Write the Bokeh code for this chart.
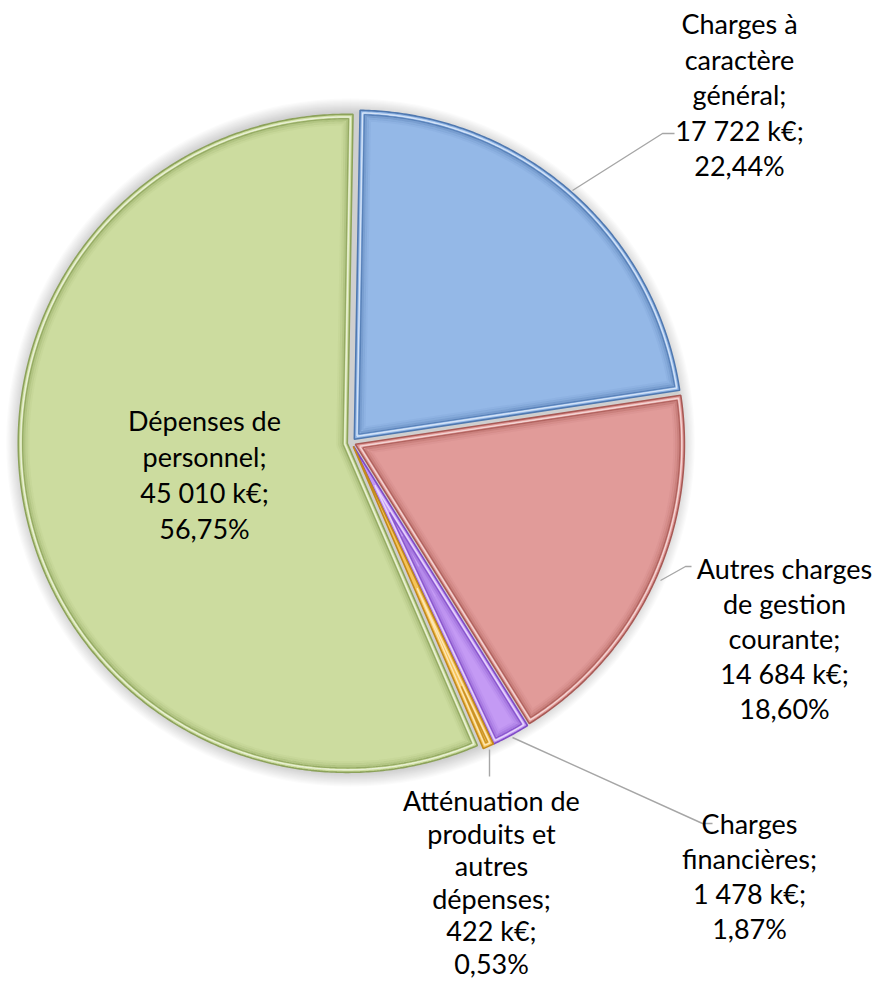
import numpy as np
from bokeh.plotting import figure
from bokeh.models import Range1d, ColumnDataSource
from bokeh.core.properties import value
from bokeh.embed import file_html
from bokeh.resources import INLINE

# ---------------- data ----------------
categories = ["Charges à\ncaractère\ngénéral",
              "Autres charges\nde gestion\ncourante",
              "Charges\nfinancières",
              "Atténuation de\nproduits et\nautres\ndépenses",
              "Dépenses de\npersonnel"]
values_keur = [17722, 14684, 1478, 422, 45010]
percents = [22.44, 18.60, 1.87, 0.53, 56.75]

# ---------------- style / layout ----------------
fill_colors = ["#94B8E7", "#E19B99", "#C49AF4", "#F7C458", "#CCDC9F"]
edge_colors = ["#4F78B0", "#A85955", "#7F4BC6", "#C28A1C", "#8CA25A"]
light_colors = ["#D4E3F7", "#F3D5D4", "#E6D5FB", "#FCE6B5", "#E9F0D6"]

PAGE_H = 1006
W, H = 876, 990
def Y(py):
    return PAGE_H - py

CX, CY = 359.0, Y(450)
R = 329.0
EXPLODE = 4.3
START_DEG = 89.0

FONT = "Lato"
FSIZE = "27px"
# (center x, first baseline y in page px, line step)
label_pos = [(747, 31, 35.5), (792, 576, 35), (757, 831, 35), (499, 808, 32.6), (212, 428, 36)]
leaders = [
    [(580, 198), (670, 141), (682, 141)],
    [(668, 588), (693, 574), (699, 574)],
    [(520, 745), (710, 831), (720, 831)],
    [(497, 757), (497, 784)],
]

p = figure(width=W, height=H, x_range=Range1d(8, 8 + W), y_range=Range1d(Y(8 + H), Y(8)),
           output_backend="svg", toolbar_location=None, min_border=0)
p.title.visible = False
p.xaxis.visible = False
p.yaxis.visible = False
p.xgrid.visible = False
p.ygrid.visible = False
p.outline_line_color = None
p.background_fill_color = "white"
p.border_fill_color = "white"

# soft shadow
for k in range(1, 13):
    p.circle(x=[CX - 1], y=[CY], radius=R + 1 + k * 1.2, fill_color="#000000",
             fill_alpha=0.014, line_color=None)

vals = np.array(values_keur, dtype=float)
spans = vals / vals.sum() * 2 * np.pi
starts = np.radians(START_DEG) - np.concatenate([[0], np.cumsum(spans)[:-1]])
ends = starts - spans
bis = starts - spans / 2


def slice_poly(i, inset):
    s, e, b, sp = starts[i], ends[i], bis[i], spans[i]
    ax = CX + EXPLODE * np.cos(b)
    ay = CY + EXPLODE * np.sin(b)
    half = sp / 2
    r = R - inset
    if inset > 0:
        d = inset / np.sin(half)
        delta = np.arcsin(inset / r)
        if d >= r * np.cos(delta) - 1 or sp - 2 * delta <= 0:
            return None
    else:
        d, delta = 0.0, 0.0
    px = ax + d * np.cos(b)
    py = ay + d * np.sin(b)
    n = max(3, int(np.degrees(sp) * 2))
    t = np.linspace(s - delta, e + delta, n)
    xs = [px] + list(ax + r * np.cos(t))
    ys = [py] + list(ay + r * np.sin(t))
    return xs, ys


for i in range(len(values_keur)):
    outer = slice_poly(i, 0)
    p.patch(outer[0], outer[1], fill_color=fill_colors[i], line_color=edge_colors[i], line_width=1.6)
    specs = [(2.6, light_colors[i], 1.4, 1.0), (4.4, edge_colors[i], 1.4, 0.85),
             (6.0, edge_colors[i], 2.0, 0.4), (8.0, edge_colors[i], 2.2, 0.2),
             (10.0, edge_colors[i], 2.2, 0.08)]
    for inset, col, lw, alpha in specs:
        poly = slice_poly(i, inset)
        if poly is None:
            continue
        xs, ys = poly
        p.line(xs + [xs[0]], ys + [ys[0]], line_color=col, line_width=lw, line_alpha=alpha)

# leader lines
for pts in leaders:
    p.line([q[0] for q in pts], [Y(q[1]) for q in pts], line_color="#A6A6A6", line_width=1.4)


def fmt_val(v):
    return f"{v:,}".replace(",", " ")


def fmt_pct(v):
    return f"{v:.2f}".replace(".", ",") + "%"


tx, ty, tt = [], [], []
for i, cat in enumerate(categories):
    lines = cat.split("\n")
    lines[-1] = lines[-1] + ";"
    lines += [fmt_val(values_keur[i]) + " k€;", fmt_pct(percents[i])]
    x0, y0, step = label_pos[i]
    for j, ln in enumerate(lines):
        tx.append(x0)
        ty.append(Y(y0 + j * step))
        tt.append(ln)

src = ColumnDataSource(dict(x=tx, y=ty, text=tt))
p.text(x="x", y="y", text="text", source=src, text_align="center", text_baseline="alphabetic",
       text_font=value(FONT), text_font_size=value(FSIZE), text_color="#000000")

open("out.html", "w").write(file_html(p, INLINE))
